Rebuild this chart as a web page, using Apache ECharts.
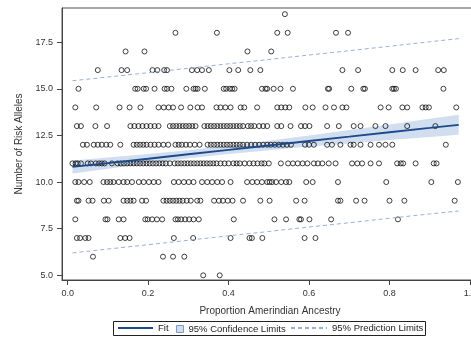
<!DOCTYPE html>
<html>
<head>
<meta charset="utf-8">
<script src="https://cdn.jsdelivr.net/npm/echarts@6/dist/echarts.min.js"></script>
<style>
    html, body { margin: 0; padding: 0; background: #fff; }
    #main { width: 471px; height: 339px; }
</style>
</head>
<body>
<div id="main"></div>
<script>
// x positions (proportion ancestry) of the points on each allele count
var row5 = [0.337, 0.378];
var row6 = [0.063, 0.237, 0.262, 0.290];
var row7 = [0.023, 0.031, 0.044, 0.052, 0.131, 0.143, 0.154, 0.264, 0.312, 0.405, 0.452, 0.458, 0.484, 0.589, 0.616];
var row8 = [0.019, 0.094, 0.099, 0.127, 0.139, 0.193, 0.199, 0.210, 0.222, 0.235, 0.268, 0.274, 0.282, 0.292, 0.302,
    0.313, 0.326, 0.413, 0.514, 0.543, 0.576, 0.580, 0.601, 0.655, 0.821];
var row9 = [0.023, 0.027, 0.052, 0.062, 0.090, 0.102, 0.139, 0.148, 0.156, 0.164, 0.185, 0.195, 0.238, 0.246, 0.254,
    0.262, 0.270, 0.278, 0.286, 0.296, 0.306, 0.322, 0.330, 0.364, 0.376, 0.386, 0.398, 0.410, 0.436, 0.479, 0.502,
    0.568, 0.589, 0.672, 0.678, 0.717, 0.738, 0.800, 0.837, 0.962];
var row10 = [0.019, 0.027, 0.041, 0.055, 0.089, 0.098, 0.106, 0.114, 0.127, 0.139, 0.148, 0.160, 0.177, 0.189, 0.202,
    0.214, 0.226, 0.264, 0.276, 0.289, 0.301, 0.313, 0.334, 0.347, 0.359, 0.372, 0.384, 0.405, 0.446, 0.459, 0.471,
    0.483, 0.496, 0.502, 0.508, 0.518, 0.531, 0.543, 0.551, 0.593, 0.609, 0.672, 0.792, 0.904, 0.970];
var row11 = [0.012, 0.020, 0.025, 0.033, 0.050, 0.058, 0.070, 0.078, 0.085, 0.092, 0.110, 0.124, 0.132, 0.140, 0.148,
    0.156, 0.164, 0.172, 0.180, 0.188, 0.196, 0.204, 0.212, 0.220, 0.228, 0.236, 0.244, 0.254, 0.266, 0.274, 0.282,
    0.290, 0.298, 0.306, 0.314, 0.322, 0.330, 0.338, 0.346, 0.354, 0.362, 0.370, 0.380, 0.390, 0.400, 0.412, 0.420,
    0.428, 0.440, 0.452, 0.462, 0.472, 0.482, 0.489, 0.500, 0.530, 0.548, 0.560, 0.572, 0.584, 0.596, 0.612, 0.622,
    0.633, 0.649, 0.666, 0.707, 0.720, 0.732, 0.753, 0.774, 0.819, 0.828, 0.834, 0.865, 0.910, 0.917];
var row12 = [0.038, 0.048, 0.065, 0.075, 0.085, 0.096, 0.106, 0.131, 0.164, 0.172, 0.180, 0.188, 0.196, 0.206, 0.216,
    0.226, 0.238, 0.250, 0.268, 0.276, 0.284, 0.294, 0.304, 0.316, 0.328, 0.348, 0.356, 0.364, 0.372, 0.380, 0.388,
    0.396, 0.404, 0.412, 0.420, 0.428, 0.436, 0.446, 0.456, 0.466, 0.476, 0.486, 0.496, 0.505, 0.515, 0.525, 0.535,
    0.545, 0.555, 0.590, 0.600, 0.612, 0.645, 0.657, 0.678, 0.703, 0.711, 0.728, 0.753, 0.774, 0.790, 0.807, 0.940];
var row13 = [0.023, 0.033, 0.069, 0.098, 0.156, 0.166, 0.176, 0.186, 0.196, 0.206, 0.216, 0.226, 0.254, 0.262, 0.270,
    0.278, 0.286, 0.294, 0.302, 0.310, 0.318, 0.340, 0.348, 0.356, 0.364, 0.372, 0.380, 0.388, 0.396, 0.404, 0.412,
    0.420, 0.428, 0.436, 0.448, 0.456, 0.464, 0.476, 0.486, 0.496, 0.521, 0.531, 0.554, 0.580, 0.590, 0.601, 0.645,
    0.674, 0.711, 0.728, 0.765, 0.790, 0.844, 0.914];
var row14 = [0.019, 0.071, 0.129, 0.154, 0.181, 0.226, 0.239, 0.251, 0.262, 0.282, 0.305, 0.323, 0.334, 0.370, 0.380,
    0.392, 0.405, 0.430, 0.439, 0.471, 0.521, 0.531, 0.541, 0.551, 0.591, 0.609, 0.641, 0.662, 0.683, 0.693, 0.778,
    0.798, 0.832, 0.844, 0.882, 0.890, 0.898, 0.966];
var row15 = [0.027, 0.168, 0.174, 0.189, 0.195, 0.216, 0.241, 0.247, 0.258, 0.295, 0.313, 0.318, 0.323, 0.341, 0.388,
    0.394, 0.403, 0.409, 0.415, 0.483, 0.492, 0.496, 0.512, 0.529, 0.560, 0.647, 0.650, 0.705, 0.735, 0.739, 0.807,
    0.811, 0.816, 0.934];
var row16 = [0.075, 0.134, 0.148, 0.211, 0.223, 0.240, 0.247, 0.309, 0.322, 0.334, 0.351, 0.402, 0.424, 0.454, 0.479,
    0.683, 0.722, 0.807, 0.833, 0.865, 0.921, 0.935];
var row17 = [0.144, 0.191, 0.447, 0.506];
var row18 = [0.268, 0.371, 0.521, 0.547, 0.667, 0.697];
var row19 = [0.540];

var alleleCounts = [5, 6, 7, 8, 9, 10, 11, 12, 13, 14, 15, 16, 17, 18, 19];
var rowsX = [row5, row6, row7, row8, row9, row10, row11, row12, row13, row14, row15, row16, row17, row18, row19];

// regression curves
var fitX = [0.012, 0.1, 0.2, 0.3, 0.4, 0.5, 0.6, 0.7, 0.8, 0.9, 0.972];
var fitY = [10.81, 11.02, 11.25, 11.49, 11.73, 11.96, 12.20, 12.43, 12.67, 12.90, 13.07];
var confLower = [10.46, 10.72, 11.00, 11.27, 11.51, 11.71, 11.90, 12.07, 12.25, 12.41, 12.53];
var confUpper = [11.16, 11.32, 11.50, 11.71, 11.95, 12.21, 12.50, 12.79, 13.09, 13.39, 13.61];
var predLower = [6.20, 6.41, 6.64, 6.88, 7.12, 7.35, 7.59, 7.82, 8.06, 8.29, 8.45];
var predUpper = [15.43, 15.63, 15.86, 16.10, 16.34, 16.57, 16.81, 17.04, 17.28, 17.52, 17.69];

var xTicks = [0, 0.2, 0.4, 0.6, 0.8, 1.0];
var yTicks = [5, 7.5, 10, 12.5, 15, 17.5];

var points = [];
for (var r = 0; r < rowsX.length; ++r) {
    for (var k = 0; k < rowsX[r].length; ++k) {
        points.push([rowsX[r][k], alleleCounts[r]]);
    }
}
var pairs = function (ys) {
    return fitX.map(function (x, i) {
        return [x, ys[i]];
    });
};

var fontFamily = '"Liberation Sans", Arial, sans-serif';
var predColor = '#9aaed6';
var bandColor = '#d0def0';
var fitColor = '#1d4a8a';
var legendText = {fontSize: 9.5, color: '#222', fontFamily: fontFamily};

var myChart = echarts.init(document.getElementById('main'), null, {renderer: 'canvas'});
var option = {
    animation: false,
    textStyle: {fontFamily: fontFamily},
    grid: {
        show: true,
        left: 62,
        top: 8,
        width: 416,
        height: 272,
        outerBoundsMode: 'none',
        borderColor: '#555',
        borderWidth: 1,
        containLabel: false
    },
    graphic: [{
        type: 'rect',
        left: 113,
        top: 321,
        shape: {width: 312, height: 14},
        style: {fill: '#fff', stroke: '#222', lineWidth: 1},
        z: -1
    }],
    legend: [{
        left: 117,
        top: 323,
        padding: 0,
        itemWidth: 35,
        itemHeight: 10,
        textStyle: legendText,
        data: [{name: 'Fit', itemStyle: {opacity: 0}}]
    }, {
        left: 176,
        top: 324,
        padding: 0,
        itemWidth: 7,
        itemHeight: 7,
        textStyle: legendText,
        data: [{name: '95% Confidence Limits', icon: 'rect',
            itemStyle: {color: bandColor, borderColor: '#7d9acb', borderWidth: 1}}]
    }, {
        left: 290,
        top: 323,
        padding: 0,
        itemWidth: 36,
        itemHeight: 10,
        textStyle: legendText,
        data: [{name: '95% Prediction Limits', itemStyle: {opacity: 0}}]
    }],
    xAxis: {
        type: 'value',
        min: -0.014,
        max: 1.02,
        name: 'Proportion Amerindian Ancestry',
        nameLocation: 'middle',
        nameGap: 26,
        nameTextStyle: {fontSize: 10, color: '#333'},
        axisLine: {show: true, onZero: false, lineStyle: {color: '#444'}},
        axisTick: {show: true, length: 5, customValues: xTicks, lineStyle: {color: '#444'}},
        axisLabel: {
            customValues: xTicks,
            fontSize: 9,
            color: '#333',
            margin: 9,
            formatter: function (v) {
                return v.toFixed(1);
            }
        },
        splitLine: {show: false}
    },
    yAxis: {
        type: 'value',
        min: 4.75,
        max: 19.33,
        name: 'Number of Risk Alleles',
        nameLocation: 'middle',
        nameGap: 38,
        nameTextStyle: {fontSize: 10, color: '#333'},
        axisLine: {show: true, onZero: false, lineStyle: {color: '#444'}},
        axisTick: {show: true, length: 5, customValues: yTicks, lineStyle: {color: '#444'}},
        axisLabel: {
            customValues: yTicks,
            fontSize: 9,
            color: '#333',
            margin: 9,
            formatter: function (v) {
                return v.toFixed(1);
            }
        },
        splitLine: {show: false}
    },
    series: [{
        type: 'custom',
        name: '95% Confidence Limits',
        z: 1,
        itemStyle: {color: bandColor},
        data: fitX.map(function (x, i) {
            return [x, confLower[i], confUpper[i]];
        }),
        encode: {x: 0, y: [1, 2]},
        renderItem: function (params, api) {
            if (params.dataIndex !== 0) {
                return;
            }
            var pts = [], i;
            for (i = 0; i < fitX.length; ++i) {
                pts.push(api.coord([fitX[i], confUpper[i]]));
            }
            for (i = fitX.length - 1; i >= 0; --i) {
                pts.push(api.coord([fitX[i], confLower[i]]));
            }
            return {type: 'polygon', shape: {points: pts}, style: {fill: bandColor}};
        }
    }, {
        type: 'scatter',
        name: 'points',
        z: 2,
        symbol: 'circle',
        symbolSize: 5,
        itemStyle: {color: 'rgba(0,0,0,0)', borderColor: '#111', borderWidth: 1},
        data: points
    }, {
        type: 'line',
        name: 'Fit',
        z: 3,
        symbol: 'none',
        lineStyle: {color: fitColor, width: 1.8},
        itemStyle: {color: fitColor},
        data: pairs(fitY)
    }, {
        type: 'line',
        name: '95% Prediction Limits',
        z: 3,
        symbol: 'none',
        lineStyle: {color: predColor, width: 1, type: [4, 3]},
        itemStyle: {color: predColor},
        data: pairs(predUpper)
    }, {
        type: 'line',
        name: '95% Prediction Limits',
        z: 3,
        symbol: 'none',
        lineStyle: {color: predColor, width: 1, type: [4, 3]},
        itemStyle: {color: predColor},
        data: pairs(predLower)
    }]
};
myChart.setOption(option);
</script>
</body>
</html>
